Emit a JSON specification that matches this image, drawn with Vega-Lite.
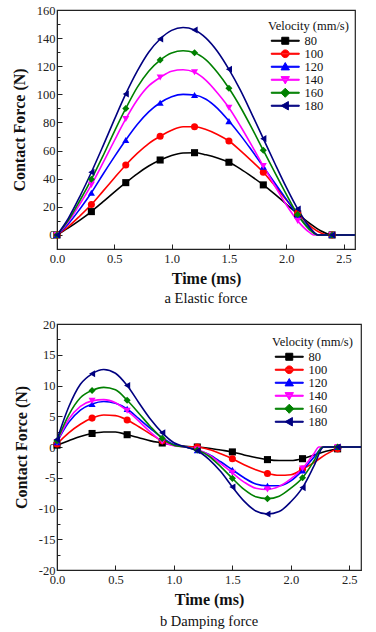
{
"$schema":"https://vega.github.io/schema/vega-lite/v6.json",
"background":"white",
"padding":{"left":10,"top":3,"right":11,"bottom":4},
"spacing":11,
"config":{
 "font":"Liberation Serif",
 "view":{"stroke":"#222","strokeWidth":1.2},
 "axis":{"labelFont":"Liberation Serif","labelFontSize":12.5,"labelColor":"#222","titleFont":"Liberation Serif","titleFontSize":16,"titleFontWeight":"bold","titleColor":"#111","domainColor":"#222","tickColor":"#222","grid":false,"labelOverlap":false,"labelFlush":false},
 "axisY":{"titlePadding":9,"labelPadding":7},
 "axisX":{"titlePadding":6,"labelPadding":8},
 "legend":{"titleFont":"Liberation Serif","titleFontSize":12.5,"titleFontWeight":"normal","titleColor":"#111","labelFont":"Liberation Serif","labelFontSize":12.5,"labelColor":"#111","padding":0,"titlePadding":2},
 "title":{"font":"Liberation Serif","fontSize":14.5,"fontWeight":"normal","color":"#111"}
},
"resolve":{"scale":{"color":"independent","shape":"independent"},"legend":{"color":"independent","shape":"independent"}},
"datasets":{
"aLine":[
{"v":"80","t":0,"f":0},{"v":"80","t":0.1,"f":5},{"v":"80","t":0.2,"f":10.5},{"v":"80","t":0.3,"f":16.6},{"v":"80","t":0.4,"f":23.5},{"v":"80","t":0.5,"f":30.5},{"v":"80","t":0.6,"f":37.2},{"v":"80","t":0.7,"f":43.5},{"v":"80","t":0.8,"f":49},{"v":"80","t":0.9,"f":53.3},{"v":"80","t":1.0,"f":56.5},{"v":"80","t":1.1,"f":58.3},{"v":"80","t":1.2,"f":58.5},{"v":"80","t":1.3,"f":57},{"v":"80","t":1.4,"f":54.8},{"v":"80","t":1.5,"f":51.7},{"v":"80","t":1.6,"f":47},{"v":"80","t":1.7,"f":41.5},{"v":"80","t":1.8,"f":35.6},{"v":"80","t":1.9,"f":29},{"v":"80","t":2.0,"f":22},{"v":"80","t":2.1,"f":15},{"v":"80","t":2.2,"f":8.5},{"v":"80","t":2.3,"f":3},{"v":"80","t":2.4,"f":0},{"v":"80","t":2.6,"f":0},
{"v":"100","t":0,"f":0},{"v":"100","t":0.1,"f":6},{"v":"100","t":0.2,"f":13.5},{"v":"100","t":0.3,"f":21.6},{"v":"100","t":0.4,"f":31},{"v":"100","t":0.5,"f":40.5},{"v":"100","t":0.6,"f":49.8},{"v":"100","t":0.7,"f":58},{"v":"100","t":0.8,"f":65},{"v":"100","t":0.9,"f":70.2},{"v":"100","t":1.0,"f":74.5},{"v":"100","t":1.1,"f":77},{"v":"100","t":1.2,"f":77},{"v":"100","t":1.3,"f":75},{"v":"100","t":1.4,"f":71.5},{"v":"100","t":1.5,"f":66.8},{"v":"100","t":1.6,"f":60},{"v":"100","t":1.7,"f":52.5},{"v":"100","t":1.8,"f":44.6},{"v":"100","t":1.9,"f":35},{"v":"100","t":2.0,"f":25},{"v":"100","t":2.1,"f":15.5},{"v":"100","t":2.2,"f":7},{"v":"100","t":2.3,"f":1.5},{"v":"100","t":2.36,"f":0},{"v":"100","t":2.4,"f":0},{"v":"100","t":2.6,"f":0},
{"v":"120","t":0,"f":0},{"v":"120","t":0.1,"f":8},{"v":"120","t":0.2,"f":18.5},{"v":"120","t":0.3,"f":30},{"v":"120","t":0.4,"f":43},{"v":"120","t":0.5,"f":55.5},{"v":"120","t":0.6,"f":67.5},{"v":"120","t":0.7,"f":78.5},{"v":"120","t":0.8,"f":87.5},{"v":"120","t":0.9,"f":94},{"v":"120","t":1.0,"f":98.3},{"v":"120","t":1.1,"f":100},{"v":"120","t":1.2,"f":99.5},{"v":"120","t":1.3,"f":96.5},{"v":"120","t":1.4,"f":90},{"v":"120","t":1.5,"f":81},{"v":"120","t":1.6,"f":71},{"v":"120","t":1.7,"f":60},{"v":"120","t":1.8,"f":48.6},{"v":"120","t":1.9,"f":37},{"v":"120","t":2.0,"f":25.5},{"v":"120","t":2.1,"f":14},{"v":"120","t":2.2,"f":5},{"v":"120","t":2.28,"f":0},{"v":"120","t":2.4,"f":0},{"v":"120","t":2.6,"f":0},
{"v":"140","t":0,"f":0},{"v":"140","t":0.1,"f":9.5},{"v":"140","t":0.2,"f":22},{"v":"140","t":0.3,"f":35.6},{"v":"140","t":0.4,"f":51},{"v":"140","t":0.5,"f":67},{"v":"140","t":0.6,"f":82.5},{"v":"140","t":0.7,"f":96},{"v":"140","t":0.8,"f":106},{"v":"140","t":0.9,"f":112},{"v":"140","t":1.0,"f":116.5},{"v":"140","t":1.1,"f":117.5},{"v":"140","t":1.2,"f":115.7},{"v":"140","t":1.3,"f":110},{"v":"140","t":1.4,"f":101},{"v":"140","t":1.5,"f":90.5},{"v":"140","t":1.6,"f":77.5},{"v":"140","t":1.7,"f":63.5},{"v":"140","t":1.8,"f":49},{"v":"140","t":1.9,"f":35},{"v":"140","t":2.0,"f":21.5},{"v":"140","t":2.1,"f":10},{"v":"140","t":2.2,"f":2},{"v":"140","t":2.24,"f":0},{"v":"140","t":2.4,"f":0},{"v":"140","t":2.6,"f":0},
{"v":"160","t":0,"f":0},{"v":"160","t":0.1,"f":10.5},{"v":"160","t":0.2,"f":24.5},{"v":"160","t":0.3,"f":39.6},{"v":"160","t":0.4,"f":56},{"v":"160","t":0.5,"f":73.5},{"v":"160","t":0.6,"f":90},{"v":"160","t":0.7,"f":105},{"v":"160","t":0.8,"f":116.5},{"v":"160","t":0.9,"f":124.4},{"v":"160","t":1.0,"f":129.5},{"v":"160","t":1.1,"f":131},{"v":"160","t":1.2,"f":129.6},{"v":"160","t":1.3,"f":124.5},{"v":"160","t":1.4,"f":115.5},{"v":"160","t":1.5,"f":104.3},{"v":"160","t":1.6,"f":91},{"v":"160","t":1.7,"f":76},{"v":"160","t":1.8,"f":60.2},{"v":"160","t":1.9,"f":44.5},{"v":"160","t":2.0,"f":29},{"v":"160","t":2.1,"f":14.5},{"v":"160","t":2.2,"f":4},{"v":"160","t":2.27,"f":0},{"v":"160","t":2.4,"f":0},{"v":"160","t":2.6,"f":0},
{"v":"180","t":0,"f":0},{"v":"180","t":0.1,"f":12},{"v":"180","t":0.2,"f":27.5},{"v":"180","t":0.3,"f":44.6},{"v":"180","t":0.4,"f":63},{"v":"180","t":0.5,"f":82},{"v":"180","t":0.6,"f":100.3},{"v":"180","t":0.7,"f":116.5},{"v":"180","t":0.8,"f":130},{"v":"180","t":0.9,"f":139.4},{"v":"180","t":1.0,"f":145.5},{"v":"180","t":1.1,"f":147.5},{"v":"180","t":1.2,"f":145.8},{"v":"180","t":1.3,"f":140},{"v":"180","t":1.4,"f":130.5},{"v":"180","t":1.5,"f":117.8},{"v":"180","t":1.6,"f":103},{"v":"180","t":1.7,"f":86},{"v":"180","t":1.8,"f":68.5},{"v":"180","t":1.9,"f":51},{"v":"180","t":2.0,"f":34},{"v":"180","t":2.1,"f":18.5},{"v":"180","t":2.2,"f":6},{"v":"180","t":2.28,"f":0},{"v":"180","t":2.4,"f":0},{"v":"180","t":2.6,"f":0}
],
"bLine":[
{"v":"80","t":0,"f":0.3},{"v":"80","t":0.1,"f":1.0},{"v":"80","t":0.2,"f":1.7},{"v":"80","t":0.3,"f":2.2},{"v":"80","t":0.4,"f":2.45},{"v":"80","t":0.5,"f":2.45},{"v":"80","t":0.6,"f":2.0},{"v":"80","t":0.7,"f":1.5},{"v":"80","t":0.8,"f":1.0},{"v":"80","t":0.9,"f":0.65},{"v":"80","t":1.0,"f":0.3},{"v":"80","t":1.1,"f":0.1},{"v":"80","t":1.2,"f":0},{"v":"80","t":1.3,"f":-0.2},{"v":"80","t":1.4,"f":-0.5},{"v":"80","t":1.5,"f":-0.8},{"v":"80","t":1.6,"f":-1.3},{"v":"80","t":1.7,"f":-1.7},{"v":"80","t":1.8,"f":-2.05},{"v":"80","t":1.9,"f":-2.2},{"v":"80","t":2.0,"f":-2.2},{"v":"80","t":2.1,"f":-1.9},{"v":"80","t":2.2,"f":-1.3},{"v":"80","t":2.3,"f":-0.7},{"v":"80","t":2.4,"f":-0.3},{"v":"80","t":2.45,"f":0},{"v":"80","t":2.6,"f":0},
{"v":"100","t":0,"f":0.5},{"v":"100","t":0.1,"f":2.3},{"v":"100","t":0.2,"f":3.7},{"v":"100","t":0.3,"f":4.7},{"v":"100","t":0.4,"f":5.2},{"v":"100","t":0.5,"f":5.1},{"v":"100","t":0.6,"f":4.4},{"v":"100","t":0.7,"f":3.3},{"v":"100","t":0.8,"f":2.1},{"v":"100","t":0.9,"f":1.0},{"v":"100","t":1.0,"f":0.3},{"v":"100","t":1.1,"f":0.05},{"v":"100","t":1.2,"f":0},{"v":"100","t":1.3,"f":-0.4},{"v":"100","t":1.4,"f":-1.1},{"v":"100","t":1.5,"f":-1.9},{"v":"100","t":1.6,"f":-2.9},{"v":"100","t":1.7,"f":-3.7},{"v":"100","t":1.8,"f":-4.3},{"v":"100","t":1.9,"f":-4.6},{"v":"100","t":2.0,"f":-4.5},{"v":"100","t":2.1,"f":-3.6},{"v":"100","t":2.2,"f":-2.5},{"v":"100","t":2.3,"f":-1.2},{"v":"100","t":2.4,"f":-0.3},{"v":"100","t":2.45,"f":0},{"v":"100","t":2.6,"f":0},
{"v":"120","t":0,"f":0.8},{"v":"120","t":0.1,"f":4},{"v":"120","t":0.2,"f":6},{"v":"120","t":0.3,"f":7.0},{"v":"120","t":0.4,"f":7.4},{"v":"120","t":0.5,"f":7.1},{"v":"120","t":0.6,"f":6.2},{"v":"120","t":0.7,"f":4.6},{"v":"120","t":0.8,"f":3.0},{"v":"120","t":0.9,"f":1.5},{"v":"120","t":1.0,"f":0.4},{"v":"120","t":1.1,"f":0},{"v":"120","t":1.2,"f":-0.5},{"v":"120","t":1.3,"f":-1.2},{"v":"120","t":1.4,"f":-2.4},{"v":"120","t":1.5,"f":-3.7},{"v":"120","t":1.6,"f":-5.0},{"v":"120","t":1.7,"f":-6.0},{"v":"120","t":1.8,"f":-6.3},{"v":"120","t":1.9,"f":-6.3},{"v":"120","t":2.0,"f":-5.5},{"v":"120","t":2.1,"f":-3.8},{"v":"120","t":2.2,"f":-1.6},{"v":"120","t":2.28,"f":0},{"v":"120","t":2.4,"f":0},{"v":"120","t":2.6,"f":0},
{"v":"140","t":0,"f":0.8},{"v":"140","t":0.1,"f":4.5},{"v":"140","t":0.2,"f":6.6},{"v":"140","t":0.3,"f":7.5},{"v":"140","t":0.4,"f":7.7},{"v":"140","t":0.5,"f":7.2},{"v":"140","t":0.6,"f":5.9},{"v":"140","t":0.7,"f":4.2},{"v":"140","t":0.8,"f":2.4},{"v":"140","t":0.9,"f":0.9},{"v":"140","t":1.0,"f":0.2},{"v":"140","t":1.1,"f":0},{"v":"140","t":1.2,"f":-0.4},{"v":"140","t":1.3,"f":-1.3},{"v":"140","t":1.4,"f":-2.7},{"v":"140","t":1.5,"f":-4.2},{"v":"140","t":1.6,"f":-5.7},{"v":"140","t":1.7,"f":-6.7},{"v":"140","t":1.8,"f":-6.9},{"v":"140","t":1.9,"f":-6.4},{"v":"140","t":2.0,"f":-5.2},{"v":"140","t":2.1,"f":-3.5},{"v":"140","t":2.2,"f":-1.0},{"v":"140","t":2.24,"f":0},{"v":"140","t":2.4,"f":0},{"v":"140","t":2.6,"f":0},
{"v":"160","t":0,"f":1.0},{"v":"160","t":0.1,"f":5.2},{"v":"160","t":0.2,"f":8},{"v":"160","t":0.3,"f":9.2},{"v":"160","t":0.4,"f":9.7},{"v":"160","t":0.5,"f":9.3},{"v":"160","t":0.6,"f":7.6},{"v":"160","t":0.7,"f":5.5},{"v":"160","t":0.8,"f":3.3},{"v":"160","t":0.9,"f":1.4},{"v":"160","t":1.0,"f":0.3},{"v":"160","t":1.1,"f":0},{"v":"160","t":1.2,"f":-0.5},{"v":"160","t":1.3,"f":-1.5},{"v":"160","t":1.4,"f":-3.2},{"v":"160","t":1.5,"f":-5.1},{"v":"160","t":1.6,"f":-6.9},{"v":"160","t":1.7,"f":-8.1},{"v":"160","t":1.8,"f":-8.4},{"v":"160","t":1.9,"f":-8.0},{"v":"160","t":2.0,"f":-6.7},{"v":"160","t":2.1,"f":-5.0},{"v":"160","t":2.2,"f":-2.2},{"v":"160","t":2.27,"f":0},{"v":"160","t":2.4,"f":0},{"v":"160","t":2.6,"f":0},
{"v":"180","t":0,"f":1.2},{"v":"180","t":0.1,"f":6.5},{"v":"180","t":0.2,"f":10.2},{"v":"180","t":0.3,"f":11.9},{"v":"180","t":0.4,"f":12.6},{"v":"180","t":0.5,"f":12.0},{"v":"180","t":0.6,"f":10.0},{"v":"180","t":0.7,"f":7.2},{"v":"180","t":0.8,"f":4.5},{"v":"180","t":0.9,"f":2.3},{"v":"180","t":1.0,"f":0.7},{"v":"180","t":1.1,"f":0},{"v":"180","t":1.2,"f":-0.6},{"v":"180","t":1.3,"f":-2.0},{"v":"180","t":1.4,"f":-4.0},{"v":"180","t":1.5,"f":-6.5},{"v":"180","t":1.6,"f":-8.8},{"v":"180","t":1.7,"f":-10.4},{"v":"180","t":1.8,"f":-10.9},{"v":"180","t":1.9,"f":-10.5},{"v":"180","t":2.0,"f":-8.9},{"v":"180","t":2.1,"f":-6.6},{"v":"180","t":2.2,"f":-3.0},{"v":"180","t":2.28,"f":0},{"v":"180","t":2.4,"f":0},{"v":"180","t":2.6,"f":0}
]
},
"vconcat":[
{
 "width":298,"height":239,
 "title":{"text":"a  Elastic force","orient":"bottom","offset":5},
 "data":{"name":"aLine"},
 "resolve":{"axis":{"y":"independent"}},
 "layer":[
  {"mark":{"type":"line","interpolate":"monotone","strokeWidth":1.6},
   "encoding":{
    "x":{"field":"t","type":"quantitative","scale":{"domain":[0,2.6],"nice":false},"axis":{"title":"Time (ms)","labelOverlap":false,"values":[0,0.25,0.5,0.75,1,1.25,1.5,1.75,2,2.25,2.5],"labelExpr":"round(datum.value*4)%2==0 ? format(datum.value,'.1f') : ''","tickSize":{"condition":{"test":"round(datum.value*4)%2==0","value":-5},"value":-3}}},
    "y":{"field":"f","type":"quantitative","scale":{"domain":[-10,160],"nice":false},"axis":{"title":"Contact Force (N)","orient":"left","labelOverlap":false,"values":[0,20,40,60,80,100,120,140,160],"labelExpr":"toString(datum.value)","tickSize":-5}},
    "color":{"field":"v","type":"nominal","sort":["80","100","120","140","160","180"],"scale":{"domain":["80","100","120","140","160","180"],"range":["#000000","#ff0000","#0000ff","#ff00ff","#008000","#000080"]},
     "legend":{"title":"Velocity (mm/s)","orient":"none","legendX":211,"legendY":10,"symbolSize":49,"symbolOffset":11,"labelOffset":13,"rowPadding":-3,"symbolStrokeWidth":1,
      "encode":{"symbols":{"update":{
       "shape":{"signal":"datum.value=='80'?'M-4,-0.15H4V0.15H-4ZM-1,-1H1V1H-1Z':datum.value=='100'?'M-4,-0.15H4V0.15H-4ZM-1.1,0A1.1,1.1 0 1,0 1.1,0A1.1,1.1 0 1,0 -1.1,0Z':datum.value=='120'?'M-4,-0.15H4V0.15H-4ZM0,-1.2L1.2,0.9H-1.2Z':datum.value=='140'?'M-4,-0.15H4V0.15H-4ZM0,1.2L1.2,-0.9H-1.2Z':datum.value=='160'?'M-4,-0.15H4V0.15H-4ZM0,-1.3L1.3,0L0,1.3L-1.3,0Z':'M-4,-0.15H4V0.15H-4ZM-1.2,0L0.9,-1.2V1.2Z'"},
       "fill":{"signal":"datum.value=='80'?'#000000':datum.value=='100'?'#ff0000':datum.value=='120'?'#0000ff':datum.value=='140'?'#ff00ff':datum.value=='160'?'#008000':'#000080'"},
       "stroke":{"signal":"datum.value=='80'?'#000000':datum.value=='100'?'#ff0000':datum.value=='120'?'#0000ff':datum.value=='140'?'#ff00ff':datum.value=='160'?'#008000':'#000080'"}
      }}}}}
   }},
  {"transform":[{"filter":{"field":"t","oneOf":[0,0.3,0.6,0.9,1.2,1.5,1.8,2.1,2.4]}}],
   "mark":{"type":"point","filled":true,"size":50,"opacity":1},
   "encoding":{
    "x":{"field":"t","type":"quantitative"},
    "y":{"field":"f","type":"quantitative","axis":{"orient":"left","title":null,"labels":false,"domain":false,"values":[-10,10,30,50,70,90,110,130,150],"tickSize":-3}},
    "color":{"field":"v","type":"nominal","legend":null},
    "shape":{"field":"v","type":"nominal","scale":{"domain":["180","160","140","120","100","80"],"range":["triangle-left","diamond","triangle-down","triangle-up","circle","square"]},"legend":null}
   }}
 ]
},
{
 "width":304,"height":246,
 "title":{"text":"b  Damping force","orient":"bottom","offset":7},
 "data":{"name":"bLine"},
 "resolve":{"axis":{"y":"independent"}},
 "layer":[
  {"mark":{"type":"line","interpolate":"monotone","strokeWidth":1.6},
   "encoding":{
    "x":{"field":"t","type":"quantitative","scale":{"domain":[0,2.6],"nice":false},"axis":{"title":"Time (ms)","labelOverlap":false,"values":[0,0.25,0.5,0.75,1,1.25,1.5,1.75,2,2.25,2.5],"labelExpr":"round(datum.value*4)%2==0 ? format(datum.value,'.1f') : ''","tickSize":{"condition":{"test":"round(datum.value*4)%2==0","value":-5},"value":-3}}},
    "y":{"field":"f","type":"quantitative","scale":{"domain":[-20,20],"nice":false},"axis":{"title":"Contact Force (N)","orient":"left","labelOverlap":false,"values":[-20,-15,-10,-5,0,5,10,15,20],"labelExpr":"toString(datum.value)","tickSize":-5}},
    "color":{"field":"v","type":"nominal","sort":["80","100","120","140","160","180"],"scale":{"domain":["80","100","120","140","160","180"],"range":["#000000","#ff0000","#0000ff","#ff00ff","#008000","#000080"]},
     "legend":{"title":"Velocity (mm/s)","orient":"none","legendX":215,"legendY":12,"symbolSize":49,"symbolOffset":11,"labelOffset":13,"rowPadding":-3,"symbolStrokeWidth":1,
      "encode":{"symbols":{"update":{
       "shape":{"signal":"datum.value=='80'?'M-4,-0.15H4V0.15H-4ZM-1,-1H1V1H-1Z':datum.value=='100'?'M-4,-0.15H4V0.15H-4ZM-1.1,0A1.1,1.1 0 1,0 1.1,0A1.1,1.1 0 1,0 -1.1,0Z':datum.value=='120'?'M-4,-0.15H4V0.15H-4ZM0,-1.2L1.2,0.9H-1.2Z':datum.value=='140'?'M-4,-0.15H4V0.15H-4ZM0,1.2L1.2,-0.9H-1.2Z':datum.value=='160'?'M-4,-0.15H4V0.15H-4ZM0,-1.3L1.3,0L0,1.3L-1.3,0Z':'M-4,-0.15H4V0.15H-4ZM-1.2,0L0.9,-1.2V1.2Z'"},
       "fill":{"signal":"datum.value=='80'?'#000000':datum.value=='100'?'#ff0000':datum.value=='120'?'#0000ff':datum.value=='140'?'#ff00ff':datum.value=='160'?'#008000':'#000080'"},
       "stroke":{"signal":"datum.value=='80'?'#000000':datum.value=='100'?'#ff0000':datum.value=='120'?'#0000ff':datum.value=='140'?'#ff00ff':datum.value=='160'?'#008000':'#000080'"}
      }}}}}
   }},
  {"transform":[{"filter":{"field":"t","oneOf":[0,0.3,0.6,0.9,1.2,1.5,1.8,2.1,2.4]}}],
   "mark":{"type":"point","filled":true,"size":50,"opacity":1},
   "encoding":{
    "x":{"field":"t","type":"quantitative"},
    "y":{"field":"f","type":"quantitative","axis":{"orient":"left","title":null,"labels":false,"domain":false,"values":[-17.5,-12.5,-7.5,-2.5,2.5,7.5,12.5,17.5],"tickSize":-3}},
    "color":{"field":"v","type":"nominal","legend":null},
    "shape":{"field":"v","type":"nominal","scale":{"domain":["180","160","140","120","100","80"],"range":["triangle-left","diamond","triangle-down","triangle-up","circle","square"]},"legend":null}
   }}
 ]
}
]
}
